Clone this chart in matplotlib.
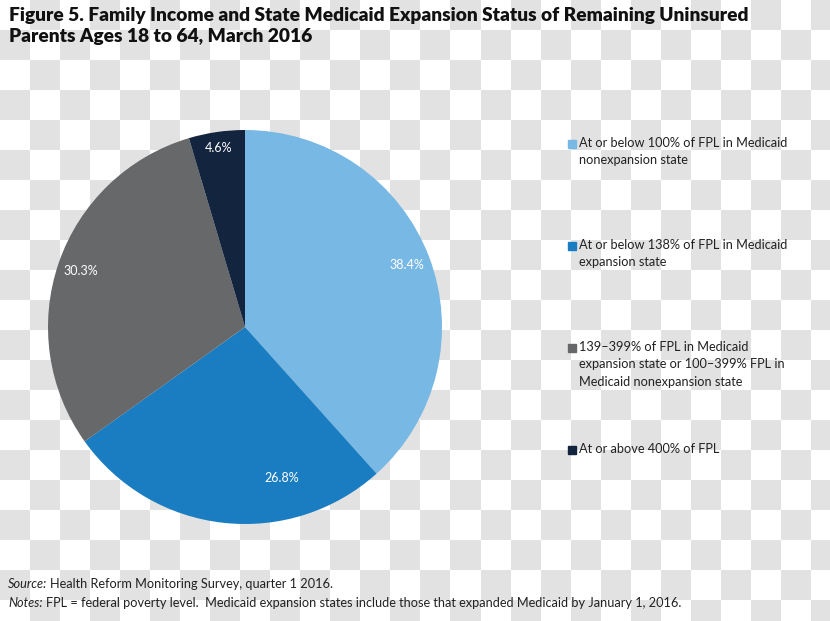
import numpy as np
import matplotlib.pyplot as plt
from matplotlib.patches import Rectangle

# data
shares = [38.4, 26.8, 30.3, 4.6]
share_labels = ["38.4%", "26.8%", "30.3%", "4.6%"]
legend_labels = [
    "At or below 100% of FPL in Medicaid\nnonexpansion state",
    "At or below 138% of FPL in Medicaid\nexpansion state",
    "139\u2013399% of FPL in Medicaid\nexpansion state or 100\u2013399% FPL in\nMedicaid nonexpansion state",
    "At or above 400% of FPL",
]
colors = ["#78b8e4", "#1a7dc2", "#67686a", "#13243f"]

title = ("Figure 5. Family Income and State Medicaid Expansion Status of Remaining Uninsured\n"
         "Parents Ages 18 to 64, March 2016")
source_txt = "Health Reform Monitoring Survey, quarter 1 2016."
notes_txt = ("FPL = federal poverty level.  Medicaid expansion states include those "
             "that expanded Medicaid by January 1, 2016.")

plt.rcParams["font.family"] = ["Lato", "DejaVu Sans"]

W, H = 830, 621
fig = plt.figure(figsize=(W / 100, H / 100), dpi=100)

# transparent-background checkerboard seen in the reference
bg = fig.add_axes([0, 0, 1, 1], zorder=-10)
n_r, n_c = H // 30 + 1, W // 30 + 1
board = (np.add.outer(np.arange(n_r), np.arange(n_c)) % 2).astype(float)
bg.imshow(board, cmap=plt.matplotlib.colors.ListedColormap(["#ffffff", "#e2e2e2"]),
          interpolation="nearest", extent=[0, n_c * 30, n_r * 30, 0], aspect="auto")
bg.set_xlim(0, W)
bg.set_ylim(H, 0)
bg.axis("off")

# pie
cx, cy, r = 245, 327, 197
ax = fig.add_axes([(cx - r) / W, 1 - (cy + r) / H, 2 * r / W, 2 * r / H])
wedges, _ = ax.pie(shares, colors=colors, startangle=90, counterclock=False,
                   radius=1, wedgeprops=dict(linewidth=0))
ax.set_xlim(-1, 1)
ax.set_ylim(-1, 1)
ax.set_aspect("equal")
ax.axis("off")

# label placement (excel-style, one label nudged off the middle)
label_shift = [0, 20, 0, 0]
label_dist = [0.88, 0.79, 0.88, 0.92]
for w, lab, sh, d in zip(wedges, share_labels, label_shift, label_dist):
    ang = np.deg2rad((w.theta1 + w.theta2) / 2 + sh)
    ax.text(d * np.cos(ang), d * np.sin(ang), lab, color="white",
            ha="center", va="center", fontsize=9)

# title
fig.text(9 / W, 1 - 7 / H, title, ha="left", va="top", fontsize=13.8,
         fontweight="heavy", color="#111111", linespacing=1.28)

# legend
for i, (lab, c) in enumerate(zip(legend_labels, colors)):
    y = 144 + i * 102
    fig.patches.append(Rectangle((568 / W, 1 - (y + 4) / H), 8 / W, 8 / H,
                                 transform=fig.transFigure, color=c))
    fig.text(579 / W, 1 - (y - 7) / H, lab, ha="left", va="top", fontsize=9.2,
             color="#222222", linespacing=1.55)

# footnotes
fig.canvas.draw()
rend = fig.canvas.get_renderer()
for y, head, body in [(584, "Source:", source_txt), (603, "Notes:", notes_txt)]:
    t = fig.text(8 / W, 1 - y / H, head, style="italic", fontsize=9.2,
                 color="#222222", va="center", ha="left")
    bb = t.get_window_extent(renderer=rend)
    fig.text(bb.x1 / W + 3 / W, 1 - y / H, body, fontsize=9.2, color="#222222",
             va="center", ha="left")

fig.savefig("out.png", dpi=100)
